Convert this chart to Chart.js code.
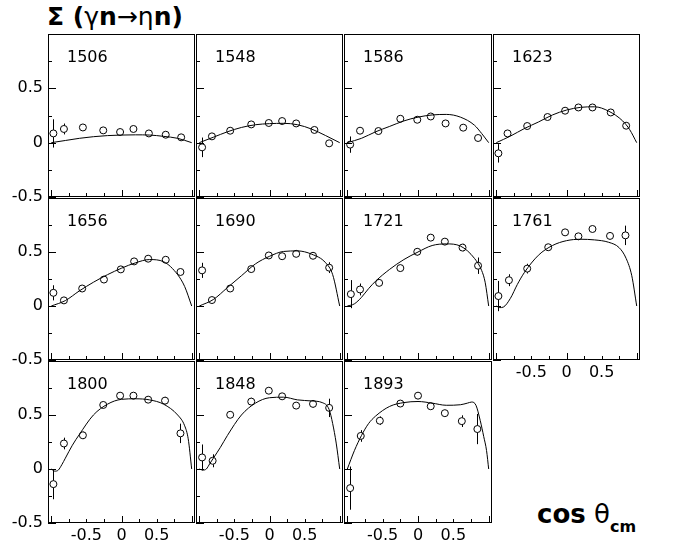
<!DOCTYPE html>
<html>
<head>
<meta charset="utf-8">
<script src="https://cdn.jsdelivr.net/npm/chart.js@4.4.0/dist/chart.umd.min.js"></script>
<style>
  html, body { margin: 0; padding: 0; background: #fff; }
  #wrap { position: relative; width: 675px; height: 547px; overflow: hidden; background: #fff; }
  #wrap canvas { position: absolute; }
  .title { position: absolute; left: 47px; top: 4px; font-family: "DejaVu Sans", sans-serif;
           font-size: 25px; line-height: 25px; white-space: nowrap; color: #000; }
  .title b { font-weight: bold; }
  .xlabel { position: absolute; left: 537px; top: 501px; font-family: "DejaVu Sans", sans-serif;
            font-size: 26px; line-height: 26px; white-space: nowrap; color: #000; }
  .xlabel .sub { font-size: 16px; font-weight: bold; position: relative; top: 9px; }
</style>
</head>
<body>
<div id="wrap">
  <div class="title"><b>&Sigma; (</b>&gamma;<b>n</b>&rarr;&eta;<b>n)</b></div>
  <div class="xlabel"><b>cos</b> &theta;<span class="sub">cm</span></div>
</div>
<script>
/* ---- beam asymmetry Sigma(gamma n -> eta n), 11 energy bins ---- */

var energies = ['1506', '1548', '1586', '1623', '1656', '1690', '1721', '1761', '1800', '1848', '1893'];

// measured points: cos(theta_cm), Sigma, error
var dataCos = [
  [-0.97, -0.82, -0.55, -0.26, -0.02, 0.17, 0.39, 0.63, 0.85],
  [-0.96, -0.82, -0.56, -0.26, -0.01, 0.18, 0.38, 0.64, 0.85],
  [-0.96, -0.82, -0.56, -0.25, -0.01, 0.18, 0.39, 0.64, 0.85],
  [-0.97, -0.84, -0.56, -0.27, -0.02, 0.17, 0.37, 0.63, 0.85],
  [-0.97, -0.82, -0.56, -0.25, -0.01, 0.18, 0.38, 0.63, 0.84],
  [-0.96, -0.82, -0.56, -0.26, -0.01, 0.18, 0.38, 0.62, 0.85],
  [-0.95, -0.82, -0.55, -0.25, -0.01, 0.18, 0.38, 0.63, 0.85],
  [-0.97, -0.82, -0.56, -0.26, -0.02, 0.17, 0.37, 0.62, 0.84],
  [-0.97, -0.82, -0.55, -0.26, -0.02, 0.17, 0.38, 0.62, 0.84],
  [-0.96, -0.81, -0.56, -0.26, -0.01, 0.18, 0.38, 0.62, 0.85],
  [-0.96, -0.81, -0.54, -0.25, 0.00, 0.18, 0.38, 0.62, 0.84]
];
var dataSigma = [
  [0.085, 0.126, 0.14, 0.113, 0.098, 0.126, 0.085, 0.073, 0.049],
  [-0.043, 0.058, 0.11, 0.168, 0.181, 0.199, 0.177, 0.117, -0.006],
  [-0.018, 0.11, 0.107, 0.22, 0.211, 0.241, 0.177, 0.138, 0.043],
  [-0.098, 0.085, 0.153, 0.236, 0.294, 0.324, 0.324, 0.278, 0.156],
  [0.122, 0.052, 0.162, 0.245, 0.339, 0.413, 0.438, 0.428, 0.315],
  [0.33, 0.055, 0.162, 0.342, 0.468, 0.461, 0.483, 0.465, 0.355],
  [0.11, 0.153, 0.214, 0.351, 0.502, 0.633, 0.596, 0.541, 0.373],
  [0.092, 0.239, 0.346, 0.544, 0.682, 0.645, 0.713, 0.649, 0.654],
  [-0.14, 0.236, 0.312, 0.593, 0.679, 0.679, 0.642, 0.633, 0.33],
  [0.107, 0.076, 0.502, 0.624, 0.725, 0.673, 0.587, 0.603, 0.566],
  [-0.177, 0.306, 0.447, 0.606, 0.679, 0.581, 0.517, 0.443, 0.37]
];
var dataErr = [
  [0.13, 0.05, 0.03, 0.03, 0.03, 0.03, 0.03, 0.03, 0.03],
  [0.09, 0.03, 0.03, 0.03, 0.03, 0.03, 0.03, 0.03, 0.03],
  [0.075, 0.03, 0.03, 0.03, 0.03, 0.03, 0.03, 0.03, 0.03],
  [0.085, 0.03, 0.03, 0.03, 0.03, 0.03, 0.03, 0.03, 0.03],
  [0.07, 0.03, 0.03, 0.03, 0.03, 0.03, 0.03, 0.03, 0.03],
  [0.07, 0.03, 0.03, 0.03, 0.03, 0.03, 0.03, 0.03, 0.05],
  [0.13, 0.055, 0.03, 0.03, 0.035, 0.03, 0.03, 0.035, 0.076],
  [0.14, 0.055, 0.045, 0.03, 0.03, 0.03, 0.03, 0.03, 0.09],
  [0.14, 0.054, 0.035, 0.03, 0.03, 0.03, 0.03, 0.035, 0.09],
  [0.12, 0.06, 0.03, 0.035, 0.03, 0.03, 0.03, 0.035, 0.085],
  [0.2, 0.054, 0.04, 0.03, 0.03, 0.03, 0.03, 0.054, 0.14]
];

// model curves
var curveCos = [
  [-1, -0.8, -0.6, -0.4, -0.2, 0, 0.2, 0.4, 0.6, 0.8, 1],
  [-1, -0.8, -0.6, -0.4, -0.2, 0, 0.2, 0.4, 0.6, 0.8, 1],
  [-1, -0.8, -0.6, -0.4, -0.2, 0, 0.2, 0.4, 0.6, 0.8, 0.9, 1],
  [-1, -0.8, -0.6, -0.4, -0.2, 0, 0.2, 0.4, 0.6, 0.8, 0.9, 1],
  [-1, -0.8, -0.6, -0.4, -0.2, 0, 0.2, 0.4, 0.6, 0.8, 0.9, 1],
  [-1, -0.8, -0.6, -0.4, -0.2, 0, 0.2, 0.4, 0.6, 0.8, 0.9, 1],
  [-1, -0.9, -0.8, -0.7, -0.6, -0.4, -0.2, 0, 0.2, 0.4, 0.6, 0.8, 0.9, 0.95, 1],
  [-1, -0.95, -0.9, -0.8, -0.7, -0.6, -0.4, -0.2, 0, 0.2, 0.4, 0.6, 0.75, 0.85, 0.93, 1],
  [-1, -0.95, -0.9, -0.85, -0.8, -0.7, -0.6, -0.4, -0.2, 0, 0.2, 0.4, 0.6, 0.8, 0.9, 0.95, 1],
  [-1, -0.95, -0.9, -0.85, -0.8, -0.7, -0.6, -0.4, -0.2, 0, 0.2, 0.4, 0.6, 0.75, 0.85, 0.9, 0.95, 1],
  [-1, -0.9, -0.8, -0.7, -0.6, -0.4, -0.2, 0, 0.2, 0.4, 0.6, 0.7, 0.76, 0.82, 0.88, 0.93, 0.97, 1]
];
var curveSigma = [
  [0, 0.02, 0.04, 0.055, 0.065, 0.07, 0.072, 0.07, 0.058, 0.04, 0],
  [0, 0.05, 0.1, 0.14, 0.165, 0.175, 0.178, 0.165, 0.125, 0.065, 0],
  [0, 0.04, 0.1, 0.15, 0.2, 0.235, 0.255, 0.26, 0.235, 0.16, 0.085, 0],
  [0, 0.06, 0.13, 0.19, 0.255, 0.3, 0.325, 0.33, 0.29, 0.2, 0.12, 0],
  [0, 0.05, 0.14, 0.22, 0.29, 0.35, 0.4, 0.43, 0.41, 0.29, 0.18, 0],
  [0, 0.06, 0.17, 0.28, 0.39, 0.46, 0.505, 0.51, 0.48, 0.4, 0.29, 0],
  [0, 0.02, 0.08, 0.16, 0.23, 0.34, 0.43, 0.5, 0.56, 0.575, 0.555, 0.44, 0.33, 0.22, 0],
  [0, -0.015, -0.01, 0.07, 0.2, 0.31, 0.47, 0.56, 0.605, 0.618, 0.612, 0.59, 0.54, 0.44, 0.28, 0],
  [0, -0.02, -0.01, 0.04, 0.1, 0.22, 0.32, 0.5, 0.6, 0.645, 0.65, 0.64, 0.6, 0.5, 0.4, 0.28, 0],
  [0, -0.01, 0.0, 0.05, 0.1, 0.2, 0.31, 0.5, 0.61, 0.66, 0.665, 0.64, 0.63, 0.615, 0.55, 0.42, 0.24, 0],
  [0, 0.17, 0.31, 0.42, 0.49, 0.58, 0.615, 0.625, 0.61, 0.59, 0.595, 0.61, 0.62, 0.59, 0.45, 0.3, 0.17, 0]
];

// axes
var xTickValues = [-0.5, 0, 0.5];
var xTickLabels = ['-0.5', '0', '0.5'];
var yTickValues = [-0.5, 0, 0.5];
var yTickLabels = ['-0.5', '0', '0.5'];
var xTickMarks = [-1, -0.75, -0.5, -0.25, 0, 0.25, 0.5, 0.75, 1];
var xMajorMarks = [-1, 0, 1];
var yTickMarks = [-0.5, -0.25, 0, 0.25, 0.5, 0.75];
var yMajorMarks = [-0.5, 0, 0.5];

/* ---- layout ---- */
var FONT = '"DejaVu Sans", sans-serif';
var colLeft = [48, 196, 344, 493], colRight = [196, 344, 493, 641];
var rowTop = [33, 197, 360], rowBottom = [197, 360, 523];
var ML = 48, MT = 4, MR = 4, MB = 32;
var R = 3.5;

function noScalePadding(s) {
  s.paddingTop = 0; s.paddingBottom = 0; s.paddingLeft = 0; s.paddingRight = 0;
}

function panelPlugin(i) {
  return {
    id: 'panel' + i,
    beforeDatasetsDraw: function(chart) {
      var a = chart.chartArea, ctx = chart.ctx;
      var xs = chart.scales.x, ys = chart.scales.y;
      ctx.save();
      ctx.strokeStyle = '#000';
      ctx.lineWidth = 1;
      ctx.strokeRect(a.left + 0.5, a.top + 0.5, a.right - a.left - 1, a.bottom - a.top - 1);
      ctx.beginPath();
      xTickMarks.forEach(function(v) {
        var px = Math.round(xs.getPixelForValue(v)) + 0.5;
        var len = xMajorMarks.indexOf(v) >= 0 ? 7 : 4;
        ctx.moveTo(px, a.bottom);
        ctx.lineTo(px, a.bottom - len);
      });
      yTickMarks.forEach(function(v) {
        var py = Math.round(ys.getPixelForValue(v)) + 0.5;
        var len = yMajorMarks.indexOf(v) >= 0 ? 8 : 4;
        ctx.moveTo(a.left, py);
        ctx.lineTo(a.left + len, py);
      });
      ctx.stroke();
      ctx.fillStyle = '#000';
      ctx.font = '16px ' + FONT;
      ctx.textBaseline = 'alphabetic';
      ctx.fillText(energies[i], a.left + 19, a.top + 28);
      ctx.restore();
    },
    afterDatasetsDraw: function(chart) {
      var ctx = chart.ctx, ys = chart.scales.y;
      var meta = chart.getDatasetMeta(1);
      ctx.save();
      ctx.strokeStyle = '#000';
      ctx.lineWidth = 1;
      ctx.beginPath();
      meta.data.forEach(function(pt, k) {
        var v = dataSigma[i][k], e = dataErr[i][k];
        var yHi = ys.getPixelForValue(v + e), yLo = ys.getPixelForValue(v - e);
        var x = Math.round(pt.x) + 0.5;
        if (yHi < pt.y - R) { ctx.moveTo(x, yHi); ctx.lineTo(x, pt.y - R); }
        if (yLo > pt.y + R) { ctx.moveTo(x, pt.y + R); ctx.lineTo(x, yLo); }
      });
      ctx.stroke();
      ctx.restore();
    }
  };
}

var wrap = document.getElementById('wrap');

energies.forEach(function(en, i) {
  var r = Math.floor(i / 4), c = i % 4;
  var pw = colRight[c] - colLeft[c], ph = rowBottom[r] - rowTop[r];
  var cv = document.createElement('canvas');
  cv.width = pw + ML + MR;
  cv.height = ph + MT + MB;
  cv.style.left = (colLeft[c] - ML) + 'px';
  cv.style.top = (rowTop[r] - MT) + 'px';
  cv.style.width = cv.width + 'px';
  cv.style.height = cv.height + 'px';
  wrap.appendChild(cv);

  var showX = (r === 2) || (r === 1 && c === 3);
  var showY = (c === 0);

  var curvePts = curveCos[i].map(function(x, k) { return { x: x, y: curveSigma[i][k] }; });
  var pts = dataCos[i].map(function(x, k) { return { x: x, y: dataSigma[i][k] }; });

  new Chart(cv, {
    type: 'scatter',
    data: {
      datasets: [{
        type: 'line',
        data: curvePts,
        borderColor: '#000',
        borderWidth: 1,
        pointRadius: 0,
        fill: false,
        cubicInterpolationMode: 'monotone'
      }, {
        type: 'scatter',
        data: pts,
        pointRadius: R,
        pointBorderWidth: 1,
        pointBorderColor: '#000',
        pointBackgroundColor: 'rgba(0,0,0,0)'
      }]
    },
    options: {
      responsive: false,
      animation: false,
      layout: { padding: { top: MT, right: MR, left: 0, bottom: 0 } },
      plugins: { legend: { display: false }, tooltip: { enabled: false } },
      scales: {
        x: {
          type: 'linear', min: -1.047, max: 1.047,
          afterFit: function(s) { s.height = MB; noScalePadding(s); },
          afterBuildTicks: function(s) { s.ticks = xTickValues.map(function(v) { return { value: v }; }); },
          grid: { display: false, drawTicks: false },
          border: { display: false },
          ticks: {
            display: showX, color: '#000', padding: 3, maxRotation: 0, autoSkip: false,
            font: { family: FONT, size: 16 },
            callback: function(v) { var k = xTickValues.indexOf(v); return k < 0 ? '' : xTickLabels[k]; }
          }
        },
        y: {
          type: 'linear', min: -0.5, max: 1.0,
          afterFit: function(s) { s.width = ML; noScalePadding(s); },
          afterBuildTicks: function(s) { s.ticks = yTickValues.map(function(v) { return { value: v }; }); },
          grid: { display: false, drawTicks: false },
          border: { display: false },
          ticks: {
            display: showY, color: '#000', padding: 5, autoSkip: false,
            font: { family: FONT, size: 16 },
            callback: function(v) { var k = yTickValues.indexOf(v); return k < 0 ? '' : yTickLabels[k]; }
          }
        }
      }
    },
    plugins: [panelPlugin(i)]
  });
});
</script>
</body>
</html>
